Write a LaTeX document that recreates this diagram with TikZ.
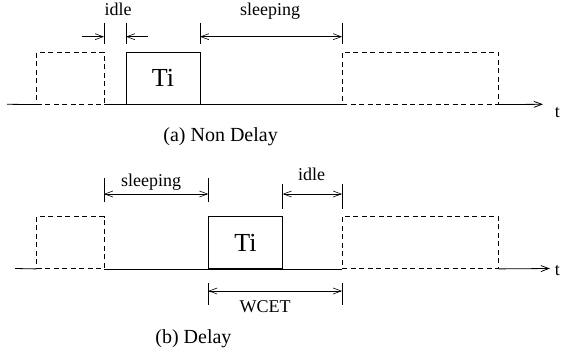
\documentclass[tikz,border=0pt]{standalone}
\usepackage{fontspec}
\setmainfont{Liberation Serif}
\usetikzlibrary{arrows.meta}
\begin{document}
\begin{tikzpicture}[x=1pt,y=-1pt,
  line width=0.8pt,
  tip/.style={-{Straight Barb[length=8pt,width=6pt]}},
  dimarrow/.style={{Straight Barb[length=8pt,width=6pt]}-{Straight Barb[length=8pt,width=6pt]}, line width=0.6pt},
  oneway/.style={-{Straight Barb[length=8pt,width=6pt]}, line width=0.6pt},
  tickline/.style={line width=0.6pt},
  dashbox/.style={draw, dash pattern=on 5pt off 3.5pt, inner sep=0pt, minimum height=52pt},
  taskbox/.style={draw, inner sep=0pt, minimum height=52pt, font=\fontsize{26}{30}\selectfont},
  lbl/.style={font=\fontsize{18}{20}\selectfont, inner sep=0pt, anchor=base},
  captxt/.style={font=\fontsize{20}{24}\selectfont, inner sep=0pt, anchor=base west}]
\useasboundingbox (0,0) rectangle (561,356);

% ---------- (a) Non Delay ----------
\node[dashbox, minimum width=67.3pt] (d1a) at (70.35,78.15) {};
\node[taskbox, minimum width=74pt] (ti1) at (163,78.15) {Ti};
\node[dashbox, minimum width=156.3pt] (d2a) at (420.15,78.15) {};

\coordinate (a1s) at (7,104.3);
\coordinate (a1e) at (543,104.3);
\draw (a1s) -- (d1a.south west);
\draw (d1a.south east) -- (d2a.south west);
\draw[tip] (d2a.south east) -- (a1e);

\coordinate (k1t) at (104,22.7);  \coordinate (k1b) at (104,44);
\coordinate (k2t) at (126,22.7);  \coordinate (k2b) at (126,44);
\coordinate (k3t) at (200,22.7);  \coordinate (k3b) at (200,44);
\coordinate (k4t) at (342,22.7);  \coordinate (k4b) at (342,44);
\draw[tickline] (k1t) -- (k1b);
\draw[tickline] (k2t) -- (k2b);
\draw[tickline] (k3t) -- (k3b);
\draw[tickline] (k4t) -- (k4b);

\coordinate (ia1) at (82,36.7);   \coordinate (ia2) at (104,36.7);
\coordinate (ib1) at (148,36.7);  \coordinate (ib2) at (126,36.7);
\coordinate (sa1) at (200,36.7);  \coordinate (sa2) at (342,36.7);
\draw[oneway] (ia1) -- (ia2);
\draw[oneway] (ib1) -- (ib2);
\draw[dimarrow] (sa1) -- (sa2);

\node[lbl] (idlea) at (118,15) {idle};
\node[lbl] (sleepa) at (270,15) {sleeping};
\node[captxt] (capa) at (163,141) {(a) Non Delay};
\node[lbl, anchor=base west] (ta) at (554.5,117) {t};

% ---------- (b) Delay ----------
\node[dashbox, minimum width=67.3pt] (d1b) at (70.35,242.5) {};
\node[taskbox, minimum width=74.4pt] (ti2) at (245.5,242.5) {Ti};
\node[dashbox, minimum width=156.3pt] (d2b) at (420.15,242.5) {};

\coordinate (a2s) at (15,268.5);
\coordinate (a2e) at (550,268.5);
\draw (a2s) -- (d1b.south west);
\draw (d1b.south east) -- (d2b.south west);
\draw[tip] (d2b.south east) -- (a2e);

\coordinate (s1t) at (104,178.3);   \coordinate (s1b) at (104,201.7);
\coordinate (s2t) at (208.3,178.3); \coordinate (s2b) at (208.3,201.7);
\coordinate (i1t) at (282.7,184);   \coordinate (i1b) at (282.7,208.5);
\coordinate (i2t) at (342,184);     \coordinate (i2b) at (342,208.5);
\coordinate (w1t) at (208.3,283.3); \coordinate (w1b) at (208.3,305);
\coordinate (w2t) at (342,283.3);   \coordinate (w2b) at (342,305);
\draw[tickline] (s1t) -- (s1b);
\draw[tickline] (s2t) -- (s2b);
\draw[tickline] (i1t) -- (i1b);
\draw[tickline] (i2t) -- (i2b);
\draw[tickline] (w1t) -- (w1b);
\draw[tickline] (w2t) -- (w2b);

\coordinate (sb1) at (104,194);   \coordinate (sb2) at (208.3,194);
\coordinate (ic1) at (282.7,194); \coordinate (ic2) at (342,194);
\coordinate (wc1) at (208.3,291); \coordinate (wc2) at (342,291);
\draw[dimarrow] (sb1) -- (sb2);
\draw[dimarrow] (ic1) -- (ic2);
\draw[dimarrow] (wc1) -- (wc2);

\node[lbl] (sleepb) at (151,186.7) {sleeping};
\node[lbl] (idleb) at (311.7,180) {idle};
\node[lbl] (wcet) at (265,312.7) {WCET};
\node[captxt] (capb) at (155,343) {(b) Delay};
\node[lbl, anchor=base west] (tb) at (554.5,275) {t};
\end{tikzpicture}
\end{document}
